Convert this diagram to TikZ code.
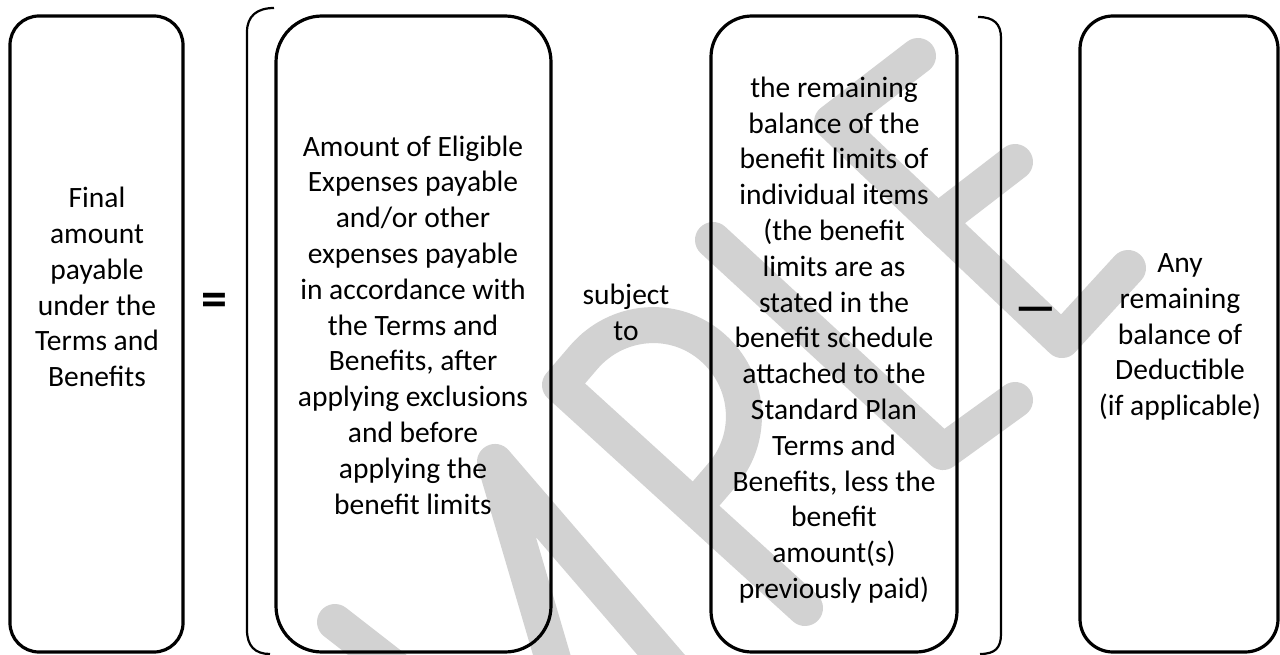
\documentclass[tikz,border=0pt]{standalone}
\usepackage{graphicx}
\usepackage{fontspec}
\setmainfont{Carlito}
\definecolor{wm}{RGB}{210,210,210}
\begin{document}
\begin{tikzpicture}[x=1pt,y=-1pt,
  box/.style={draw=black,line width=3.2pt,rectangle,minimum height=636pt,inner sep=0pt},
  brk/.style={draw=black,line width=2.2pt},
  wmark/.style={draw=wm,line width=36pt,line cap=round,line join=round},
  txt/.style={align=center,inner sep=0pt,font=\fontsize{29.5}{35.8}\selectfont},
  sym/.style={inner sep=0pt,font=\fontsize{52}{52}\selectfont\bfseries}]
\useasboundingbox (0,0) rectangle (1280,655);
% watermark
\begin{scope}
\clip (0,0) rectangle (1280,655);
\draw[wmark] (335,622) -- (425,692);
\draw[wmark] (565,700) -- (495,462) -- (700,700);
\draw[wmark] (805,608) -- (560,385) -- (584,357) .. controls (617,319) and (674,314) .. (712,347) .. controls (750,380) and (755,437) .. (722,475) -- (698,503);
\draw[wmark] (713,240) -- (943,452) -- (1015,400);
\draw[wmark] (918,56) -- (832,122) -- (1062,340) -- (1128,268);
\draw[wmark] (937,222) -- (1015,162);
\end{scope}
% boxes
\node[box,rounded corners=29pt,minimum width=173pt] (b1) at (96.5,334) {};
\node[box,rounded corners=46pt,minimum width=275pt] (b2) at (413.5,334) {};
\node[box,rounded corners=41pt,minimum width=246pt] (b3) at (834,334) {};
\node[box,rounded corners=33pt,minimum width=198pt] (b4) at (1179,334) {};
% brackets
\draw[brk] (274,8) .. controls (257,8) and (247,16) .. (247,32) -- (247,630) .. controls (247,646) and (255,654) .. (270,654);
\draw[brk] (978,17) .. controls (994,17) and (1001,24) .. (1001,38) -- (1001,634) .. controls (1001,648) and (995,654) .. (980,654);
% texts
\node[txt] (t1) at (97,287) {Final\\amount\\payable\\under the\\Terms and\\Benefits};
\node[txt] (t2) at (413,325) {Amount of Eligible\\Expenses payable\\and/or other\\expenses payable\\in accordance with\\the Terms and\\Benefits, after\\applying exclusions\\and before\\applying the\\benefit limits};
\node[txt] (subj) at (626,312) {subject\\to};
\node[txt] (t3) at (834,340) {the remaining\\balance of the\\benefit limits of\\individual items\\(the benefit\\limits are as\\stated in the\\benefit schedule\\attached to the\\Standard Plan\\Terms and\\Benefits, less the\\benefit\\amount(s)\\previously paid)};
\node[txt] (t4) at (1180,337) {Any\\remaining\\balance of\\Deductible\\(if applicable)};
\node[sym] (eq) at (214,305) {=};
\node[sym] (mi) at (1036,315) {\scalebox{1.8}[0.9]{–}};
\end{tikzpicture}
\end{document}
